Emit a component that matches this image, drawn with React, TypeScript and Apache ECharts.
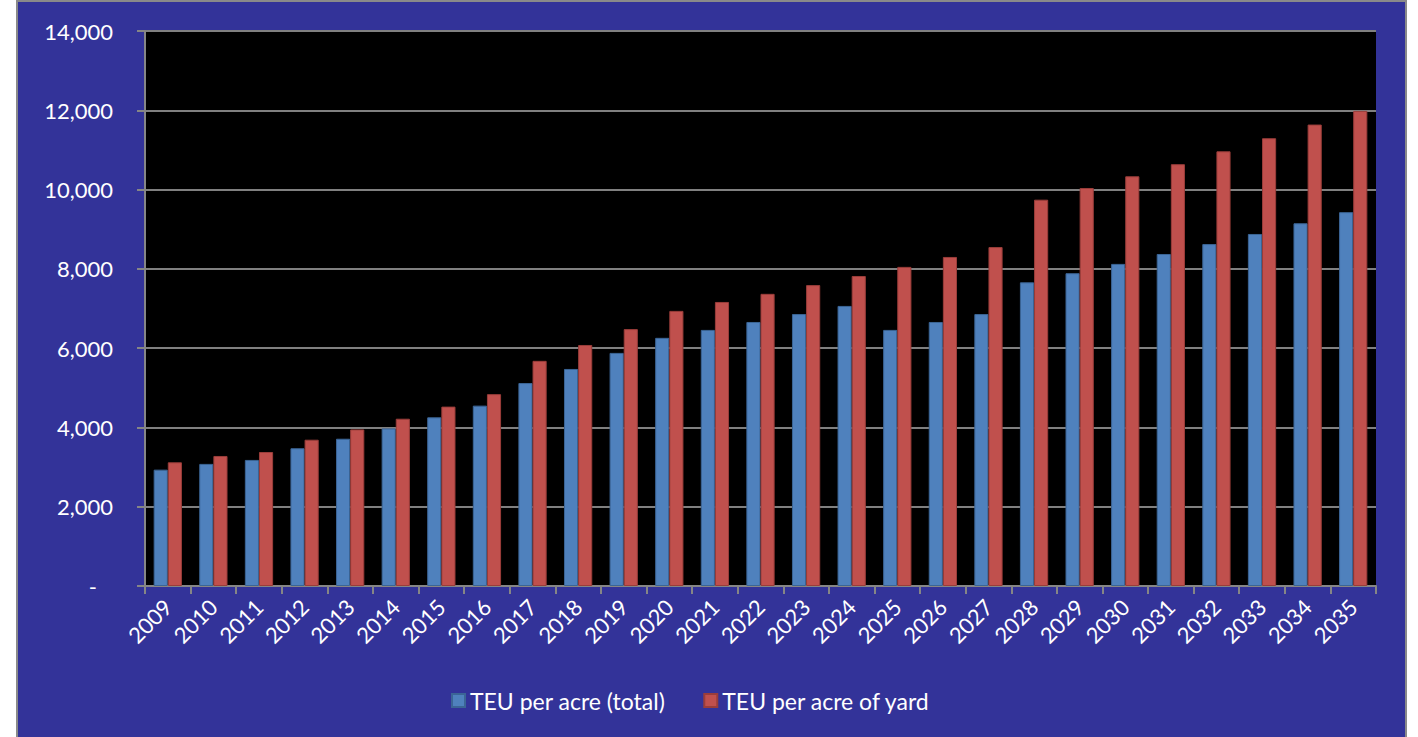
import React, { useEffect, useRef } from "react";
import * as echarts from "echarts";

const years = [
  "2009", "2010", "2011", "2012", "2013", "2014", "2015", "2016", "2017",
  "2018", "2019", "2020", "2021", "2022", "2023", "2024", "2025", "2026",
  "2027", "2028", "2029", "2030", "2031", "2032", "2033", "2034", "2035",
];

const teuTotal = [
  2935, 3080, 3180, 3475, 3715, 3975, 4255, 4550, 5120,
  5475, 5880, 6260, 6460, 6660, 6860, 7065, 6460, 6660,
  6860, 7660, 7890, 8125, 8375, 8625, 8880, 9150, 9430,
];

const teuYard = [
  3120, 3280, 3380, 3690, 3950, 4220, 4525, 4840, 5680,
  6080, 6480, 6940, 7165, 7370, 7590, 7820, 8050, 8300,
  8550, 9745, 10040, 10335, 10640, 10965, 11295, 11640, 11985,
];

const seriesNames = ["TEU per acre (total)", "TEU per acre of yard"];

const FONT = "Lato, 'Open Sans', sans-serif";

export default function App() {
  const ref = useRef<HTMLDivElement>(null);

  useEffect(() => {
    if (!ref.current) return;
    const chart = echarts.init(ref.current, undefined, { renderer: "svg" });
    chart.setOption({
      animation: false,
      backgroundColor: "transparent",
      textStyle: { fontFamily: FONT },
      grid: {
        left: 145,
        right: 42,
        top: 31,
        bottom: 151,
        show: true,
        backgroundColor: "#000000",
        borderWidth: 0,
      },
      legend: {
        bottom: 20,
        left: 446,
        itemWidth: 13,
        itemHeight: 13,
        itemGap: 38,
        icon: "rect",
        textStyle: { color: "#ffffff", fontSize: 23, fontFamily: FONT },
        data: seriesNames,
      },
      xAxis: {
        type: "category",
        data: years,
        axisLine: { show: true, lineStyle: { color: "#868686", width: 2 } },
        axisTick: { show: true, length: 8, interval: 0, lineStyle: { color: "#868686", width: 2 } },
        axisLabel: {
          interval: 0,
          rotate: 45,
          color: "#ffffff",
          fontSize: 22,
          margin: 17,
          fontFamily: FONT,
        },
      },
      yAxis: {
        type: "value",
        min: 0,
        max: 14000,
        interval: 2000,
        axisLine: { show: true, lineStyle: { color: "#868686", width: 2 } },
        axisTick: { show: true, length: 8, lineStyle: { color: "#868686", width: 2 } },
        splitLine: { show: true, lineStyle: { color: "#808080", width: 2 } },
        axisLabel: {
          color: "#ffffff",
          fontSize: 22,
          margin: 32,
          fontFamily: FONT,
          formatter: (v: number) => (v === 0 ? "{d|-}" : v.toLocaleString("en-US")),
          rich: {
            d: { color: "#ffffff", fontSize: 22, fontFamily: FONT, padding: [0, 16, 0, 0] },
          },
        },
      },
      series: [
        {
          name: seriesNames[0],
          type: "bar",
          data: teuTotal,
          barGap: "0%",
          barCategoryGap: "38%",
          itemStyle: { color: "#4F81BD", borderColor: "#3B6596", borderWidth: 1 },
        },
        {
          name: seriesNames[1],
          type: "bar",
          data: teuYard,
          barGap: "0%",
          barCategoryGap: "38%",
          itemStyle: { color: "#C0504D", borderColor: "#9A3D3A", borderWidth: 1 },
        },
      ],
    });
    return () => chart.dispose();
  }, []);

  return (
    <div
      style={{
        position: "fixed",
        left: 0,
        top: 0,
        width: 1418,
        height: 737,
        background: "#ffffff",
        overflow: "hidden",
      }}
    >
      <div
        style={{
          position: "absolute",
          left: 16,
          top: 0,
          width: 1391,
          height: 760,
          boxSizing: "border-box",
          background: "#333399",
          border: "2px solid #8a8a8a",
        }}
      />
      <div
        ref={ref}
        style={{ position: "absolute", left: 0, top: 0, width: 1418, height: 737 }}
      />
    </div>
  );
}
